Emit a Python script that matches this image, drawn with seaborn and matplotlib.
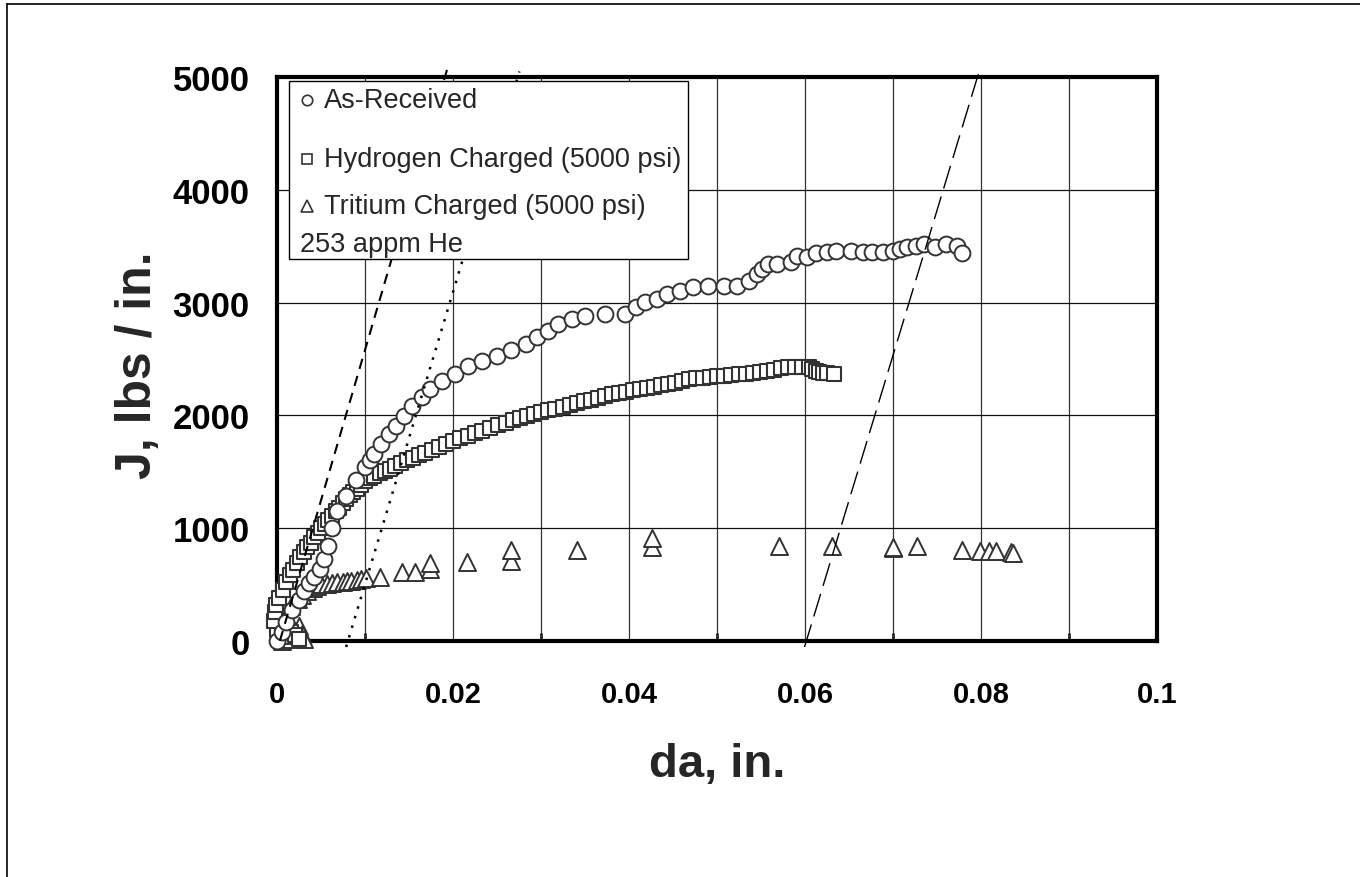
import matplotlib
matplotlib.use('agg')
import matplotlib.pyplot as plt
from matplotlib.lines import Line2D
from matplotlib.patches import Rectangle
import seaborn as sns
import pandas as pd

# As-Received (circles)
ar_da = [0.0, 0.0005, 0.001, 0.0017, 0.0024, 0.003, 0.0036, 0.0042, 0.0048, 0.0053,
         0.0057, 0.0062, 0.0068, 0.0078, 0.0089, 0.0099, 0.0105, 0.011, 0.0118, 0.0127,
         0.0135, 0.0144, 0.0153, 0.0164, 0.0173, 0.0187, 0.0202, 0.0216, 0.0233, 0.0249,
         0.0266, 0.0282, 0.0295, 0.0307, 0.0319, 0.0335, 0.035, 0.0372, 0.0395, 0.0407,
         0.0418, 0.0431, 0.0443, 0.0457, 0.0472, 0.0489, 0.0508, 0.0522, 0.0536, 0.0545,
         0.0551, 0.0557, 0.0568, 0.0584, 0.0591, 0.0602, 0.0612, 0.0624, 0.0635, 0.0652,
         0.0665, 0.0676, 0.0688, 0.0699, 0.0707, 0.0716, 0.0726, 0.0735, 0.0747, 0.076,
         0.0772, 0.0778]
ar_J = [0, 80, 170, 270, 360, 440, 510, 567, 640, 727,
        842, 1000, 1152, 1285, 1430, 1545, 1600, 1658, 1746, 1835,
        1906, 1995, 2083, 2163, 2234, 2305, 2367, 2438, 2482, 2527,
        2580, 2633, 2695, 2748, 2810, 2855, 2881, 2899, 2899, 2961,
        3005, 3032, 3076, 3103, 3138, 3147, 3147, 3150, 3191, 3253,
        3300, 3342, 3342, 3360, 3413, 3404, 3440, 3449, 3455, 3455,
        3449, 3449, 3449, 3457, 3475, 3493, 3502, 3520, 3493, 3520,
        3502, 3440]

# Hydrogen charged (squares)
h_da = [0.0, 0.0005, 0.001, 0.0015, 0.002, 0.0025,
        -0.0004, -0.0003, -0.0002, 0.0002, 0.0006, 0.001, 0.0014, 0.0018, 0.0022, 0.0026,
        0.003, 0.0034, 0.0038, 0.0042, 0.0046, 0.005, 0.0054, 0.0058, 0.0062, 0.0066,
        0.007, 0.0074, 0.0078, 0.0082, 0.0086, 0.009, 0.0095, 0.01, 0.0105, 0.011,
        0.0116, 0.0122, 0.0128, 0.0134, 0.014, 0.0147, 0.0154, 0.0161, 0.0168, 0.0176,
        0.0184, 0.0192, 0.02, 0.0208, 0.0216, 0.0224, 0.0233, 0.0242, 0.0251, 0.026,
        0.0268, 0.0276, 0.0284, 0.0292, 0.03, 0.0308, 0.0316, 0.0324, 0.0332, 0.034,
        0.0348, 0.0356, 0.0364, 0.0372, 0.038, 0.0388, 0.0396, 0.0404, 0.0412, 0.042,
        0.0428, 0.0436, 0.0444, 0.0452, 0.046, 0.0468, 0.0476, 0.0484, 0.0492, 0.05,
        0.0508, 0.0516, 0.0524, 0.0532, 0.054, 0.0548, 0.0556, 0.0564, 0.0572, 0.058,
        0.0588, 0.0596, 0.0604, 0.0608, 0.0612, 0.0616, 0.062, 0.0625, 0.0632]
h_J = [100, 150, 120, 80, 50, 20,
       180, 260, 320, 380, 450, 520, 580, 630, 690, 740,
       790, 830, 870, 920, 960, 1000, 1040, 1075, 1110, 1150,
       1180, 1220, 1255, 1290, 1320, 1350, 1385, 1415, 1440, 1460,
       1485, 1505, 1525, 1550, 1575, 1600, 1625, 1650, 1670, 1695,
       1720, 1745, 1775, 1800, 1820, 1840, 1860, 1885, 1910, 1935,
       1955, 1975, 1995, 2010, 2030, 2045, 2060, 2075, 2090, 2110,
       2125, 2140, 2155, 2170, 2185, 2195, 2210, 2225, 2235, 2245,
       2255, 2265, 2275, 2290, 2305, 2320, 2330, 2335, 2340, 2345,
       2350, 2360, 2365, 2370, 2375, 2385, 2395, 2405, 2420, 2428,
       2430, 2430, 2430, 2410, 2395, 2385, 2380, 2375, 2370]

# Tritium charged, 253 appm He (triangles)
t_da = [0.0005, 0.001, 0.0015, 0.002, 0.0025, 0.0028, 0.003,
        0.0, 0.0008, 0.0015, 0.0023, 0.0028, 0.0034, 0.004, 0.0045, 0.005, 0.0056,
        0.0062, 0.0068, 0.0074, 0.0079, 0.0084, 0.009, 0.0095, 0.0101, 0.0116, 0.0141,
        0.0156, 0.0173, 0.0173, 0.0215, 0.0266, 0.0266, 0.0341, 0.0426, 0.0426, 0.057,
        0.063, 0.0699, 0.0699, 0.0727, 0.0778, 0.0798, 0.0809, 0.0817, 0.0834, 0.0836]
t_J = [0, 20, 50, 90, 130, 60, 20,
       200, 260, 310, 370, 410, 443, 470, 488, 500, 505,
       515, 520, 523, 528, 532, 540, 550, 555, 567, 612,
       612, 640, 690, 700, 710, 810, 810, 830, 910, 840,
       840, 820, 830, 845, 810, 800, 800, 800, 785, 775]

# construction lines (da, J end points)
dash_da = [0.00028, 0.0194]
dash_J = [0, 5100]
dot_da = [0.0078, 0.0275]
dot_J = [-55, 5050]
long_da = [0.0599, 0.0799]
long_J = [-55, 5090]

sns.set_theme(style='white')
plt.rcParams['font.family'] = ['Liberation Sans', 'DejaVu Sans']

fig = plt.figure(figsize=(13.6, 8.78), dpi=100)
ax = fig.add_axes([0.204, 0.269, 0.647, 0.642])

ec = '#333333'
sns.scatterplot(data=pd.DataFrame({'da': t_da, 'J': t_J}), x='da', y='J', marker='^', s=150,
                color='white', edgecolor=ec, linewidth=1.4, ax=ax, zorder=3, clip_on=False)
sns.scatterplot(data=pd.DataFrame({'da': h_da, 'J': h_J}), x='da', y='J', marker='s', s=100,
                color='white', edgecolor=ec, linewidth=1.5, ax=ax, zorder=3, clip_on=False)
sns.scatterplot(data=pd.DataFrame({'da': ar_da, 'J': ar_J}), x='da', y='J', marker='o', s=130,
                color='white', edgecolor=ec, linewidth=1.4, ax=ax, zorder=3, clip_on=False)

ax.plot(dash_da, dash_J, color='black', lw=1.5, ls=(0, (5, 3.5)), zorder=4, clip_on=False)
ax.plot(dot_da, dot_J, color='black', lw=1.8, ls=(0, (1, 3)), zorder=4, clip_on=False)
ax.plot(long_da, long_J, color='black', lw=1.0, ls=(0, (17, 6)), zorder=4, clip_on=False)

ax.set_xlim(0, 0.1)
ax.set_ylim(0, 5000)
ax.set_xticks([0, 0.02, 0.04, 0.06, 0.08, 0.1])
ax.set_xticklabels(['0', '0.02', '0.04', '0.06', '0.08', '0.1'])
ax.set_xticks([0.01, 0.03, 0.05, 0.07, 0.09], minor=True)
ax.set_yticks([0, 1000, 2000, 3000, 4000, 5000])
ax.set_yticklabels(['0', '1000', '2000', '3000', '4000', '5000'])
ax.grid(True, which='both', axis='x', color='#333333', lw=0.9)
ax.grid(True, which='major', axis='y', color='#111111', lw=0.9)
ax.set_axisbelow(True)
ax.tick_params(axis='both', which='major', direction='in', length=8, width=2.5, colors='black')
ax.tick_params(axis='x', which='major', pad=28, labelsize=21)
ax.tick_params(axis='y', which='major', pad=20, labelsize=25)
ax.tick_params(axis='x', which='minor', direction='in', length=6, width=2, bottom=True)
for lbl in ax.get_xticklabels() + ax.get_yticklabels():
    lbl.set_fontweight('bold')
for sp in ax.spines.values():
    sp.set_visible(True)
    sp.set_color('black')
    sp.set_linewidth(3)

ax.set_xlabel('da, in.', fontsize=34, fontweight='bold')
ax.set_ylabel('J, lbs / in.', fontsize=36, fontweight='bold')
ax.xaxis.set_label_coords(0.5, -0.18)
ax.yaxis.set_label_coords(-0.132, 0.49)

# legend drawn by hand so the second tritium line sits under the marker
ax.add_patch(Rectangle((0.0137, 0.6773), 0.4527, 0.3156, transform=ax.transAxes,
                       facecolor='white', edgecolor='black', lw=1.0, zorder=6))
leg_y = [0.959, 0.8546, 0.7713]
leg_m = ['o', 's', '^']
leg_ms = [7.5, 7.5, 9]
leg_txt = ['As-Received', 'Hydrogen Charged (5000 psi)', 'Tritium Charged (5000 psi)']
for yy, mk, ms, tx in zip(leg_y, leg_m, leg_ms, leg_txt):
    ax.plot([0.0335], [yy], marker=mk, ms=ms, mfc='white', mec=ec, mew=1.2,
            transform=ax.transAxes, zorder=7, clip_on=False)
    ax.text(0.0525, yy, tx, transform=ax.transAxes, fontsize=19.5, va='center', ha='left', zorder=7)
ax.text(0.0259, 0.7039, '253 appm He', transform=ax.transAxes, fontsize=19.5, va='center',
        ha='left', zorder=7)

# thin page frame at top and left
fig.add_artist(Line2D([7 / 1360, 1.0], [1 - 5 / 878, 1 - 5 / 878], color='black', lw=1.2))
fig.add_artist(Line2D([7 / 1360, 7 / 1360], [0, 1 - 5 / 878], color='black', lw=1.2))

fig.savefig('out.png', dpi=100)
